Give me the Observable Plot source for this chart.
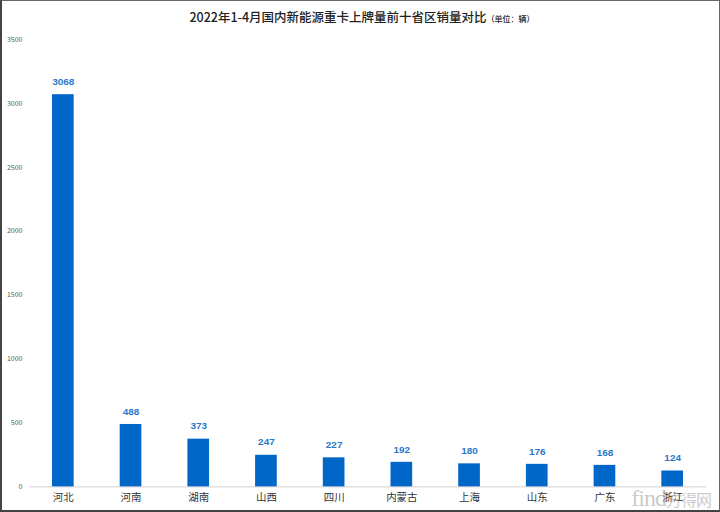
<!DOCTYPE html>
<html><head><meta charset="utf-8">
<script src="https://cdn.jsdelivr.net/npm/d3@7"></script>
<script src="https://cdn.jsdelivr.net/npm/@observablehq/plot@0.6"></script>
<style>
body{margin:0;background:#fff;}
#wrap{position:relative;width:720px;height:512px;box-sizing:border-box;border:1px solid #666;border-left:2px solid #444;border-bottom:2px solid #444;overflow:hidden;font-family:"Noto Sans CJK SC",sans-serif;}
#title{position:absolute;top:6px;left:0;width:720px;text-align:center;font-size:12.5px;color:#222;font-weight:500;}
#title small{font-size:8px;}
#chart{position:absolute;top:27px;left:-2px;}
#wm{position:absolute;right:8px;bottom:0px;line-height:1;font-size:24px;color:rgba(150,150,150,0.5);font-family:"Liberation Serif",serif;letter-spacing:-1px;}
#wm span{font-family:"Noto Sans CJK SC";font-size:16px;color:rgba(150,150,150,0.5);}
</style></head>
<body>
<div id="wrap">
<div id="title">2022年1-4月国内新能源重卡上牌量前十省区销量对比<small>（单位：辆）</small></div>
<div id="chart"></div>
<div id="wm">find<span>方得网</span></div>
</div>
<script>
const provinces = ["河北","河南","湖南","山西","四川","内蒙古","上海","山东","广东","浙江"];
const sales = [3068,488,373,247,227,192,180,176,168,124];
const yTicks = [0,500,1000,1500,2000,2500,3000,3500];
const data = provinces.map((p,i)=>({p, v:sales[i]}));
const chart = Plot.plot({
  width: 720, height: 484,
  marginTop: 11, marginBottom: 25, marginLeft: 29, marginRight: 13,
  style:{fontFamily:"Noto Sans CJK SC, sans-serif", background:"transparent"},
  x:{domain:provinces, paddingInner:0.68, paddingOuter:0.34, round:false, label:null},
  y:{domain:[0,3500], label:null},
  marks:[
    Plot.gridY(yTicks,{stroke:"#d9d9d9", strokeOpacity:1, x1:30, x2:712}),
    Plot.ruleY([0],{stroke:"#cfcfcf"}),
    Plot.barY(data,{x:"p", y:"v", fill:"#0066c8"}),
    Plot.text(data,{x:"p", y:"v", text:d=>String(d.v), dy:-13, fill:"#2a78c8", fontSize:10, fontWeight:"bold", fontFamily:"Liberation Sans, sans-serif"}),
    Plot.axisY(yTicks,{tickSize:0, tickPadding:7, fontSize:7, fill:"#555", label:null, tickFormat:d=>String(d)}),
    Plot.axisX({tickSize:0, tickPadding:7, fontSize:10.5, fill:"#333", label:null})
  ]
});
document.getElementById("chart").appendChild(chart);
</script>
</body></html>
